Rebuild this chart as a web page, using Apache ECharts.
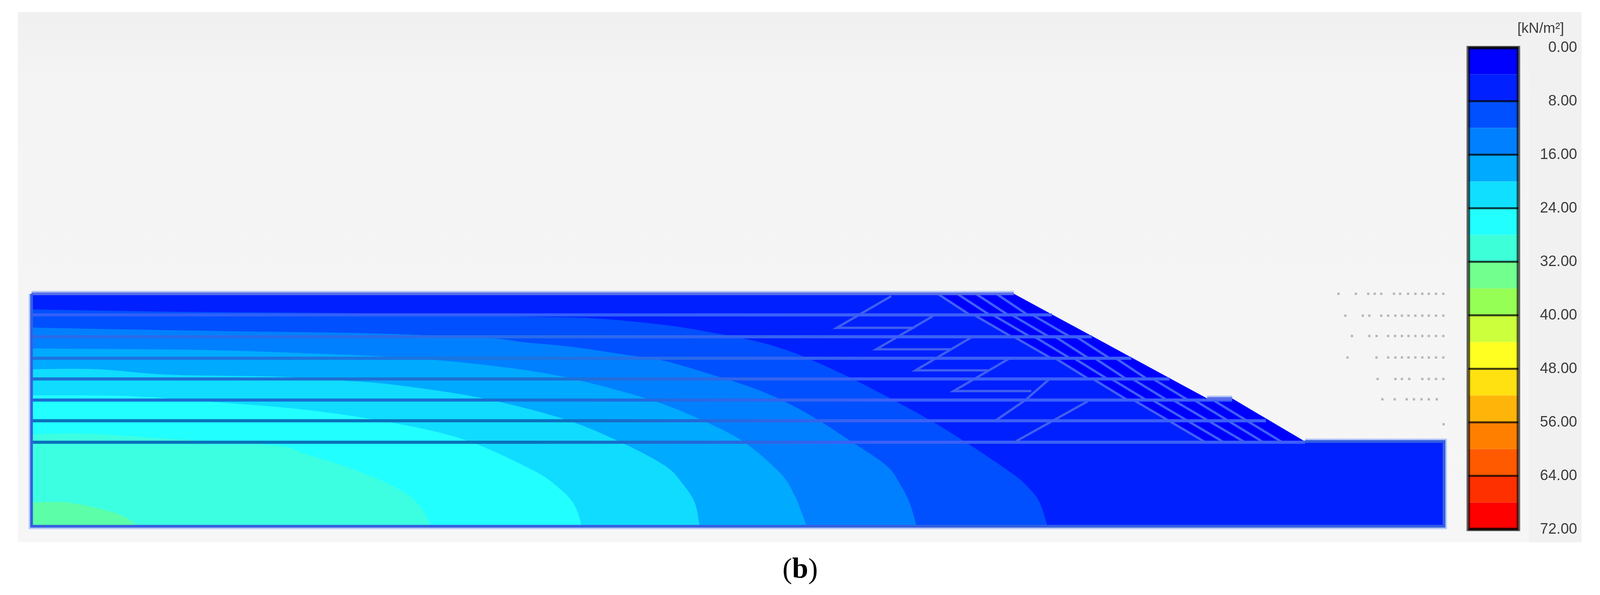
<!DOCTYPE html>
<html>
<head>
<meta charset="utf-8">
<title>Stress contours</title>
<style>
  html, body { margin: 0; padding: 0; background: #fff; overflow: hidden; }
  #main { width: 100vw; height: 100vh; }
</style>
<script src="https://cdn.jsdelivr.net/npm/echarts@6/dist/echarts.min.js"></script>
</head>
<body>
<div id="main"></div>
<script>
// colour scale
var scaleTicks = [0, 8, 16, 24, 32, 40, 48, 56, 64, 72];
var bandSizes = [4, 4, 4, 4, 4, 4, 4, 4, 4, 4, 4, 4, 4, 4, 4, 4, 4, 4];
var bandColors = ["#0000ff", "#0020ff", "#0050ff", "#0080ff", "#00aaff", "#10dfff", "#22ffff", "#3dffd8", "#72ff8e",
  "#96ff55", "#ccff3c", "#ffff22", "#ffe010", "#ffb40a", "#ff8000", "#ff5a00", "#ff3000", "#ff0000"];
var contourColors = ["#0050ff", "#0080ff", "#00aaff", "#10dcff", "#22ffff", "#3cffe2", "#5cffa8"];

// model outline and layers, in picture units
var outline = [[87, 752], [2795, 752], [3328, 1020], [3397, 1020], [3598, 1130], [3981, 1130], [3981, 1347], [87, 1347]];
var outlineEdges = [
  [[87, 752], [2795, 752]],
  [[3328, 1020], [3397, 1020]],
  [[3598, 1130], [3981, 1130], [3981, 1347], [87, 1347], [87, 752]]
];
var layerY = [752, 806, 862, 917, 970, 1025, 1132];
var layerEndX = [2900, 3010, 3119, 3224, 3397, 3490, 3598];
var layerLineY = [806, 862, 917, 970, 1024, 1077, 1132];
var layerLeftColor = ["#3060fa", "#2a6cea", "#1c74de", "#1c70d2", "#1670d4", "#0a72bc", "#0a72bc"];

// slope face inside each layer
var faceRuns = [
  [[2795, 752], [2902, 806]],
  [[2902, 806], [3014, 862]],
  [[3014, 862], [3123, 917]],
  [[3123, 917], [3228, 970]],
  [[3228, 970], [3328, 1020], [3397, 1020], [3406, 1025]],
  [[3406, 1025], [3598, 1132]]
];

// contour limits, from the left edge round to the base
var contour8 = [[87, 792], [495, 798], [980, 802], [1479, 811], [1642, 815], [1834, 832], [1961, 851], [2087, 874], [2170, 897], [2234, 920], [2342, 966], [2463, 1024], [2559, 1073], [2661, 1131], [2789, 1211], [2833, 1246], [2865, 1284], [2888, 1347]];
var contour12 = [[87, 838], [170, 840], [648, 848], [1012, 853], [1342, 865], [1444, 876], [1578, 888], [1731, 909], [1833, 924], [1980, 964], [2087, 997], [2170, 1031], [2259, 1077], [2345, 1129], [2444, 1192], [2483, 1242], [2508, 1288], [2527, 1347]];
var contour16 = [[87, 892], [406, 894], [616, 897], [865, 905], [1087, 914], [1317, 932], [1540, 962], [1782, 1020], [1929, 1073], [2050, 1131], [2151, 1211], [2189, 1265], [2208, 1307], [2224, 1347]];
var contour20 = [[87, 945], [266, 945], [463, 959], [763, 964], [942, 974], [1087, 985], [1323, 1018], [1546, 1070], [1700, 1127], [1833, 1192], [1885, 1242], [1916, 1288], [1929, 1347]];
var contour24 = [[87, 1012], [358, 1014], [617, 1031], [853, 1050], [1087, 1083], [1285, 1127], [1470, 1204], [1546, 1253], [1585, 1295], [1604, 1347]];
var contour28 = [[87, 1112], [234, 1110], [444, 1122], [757, 1140], [842, 1162], [982, 1204], [1087, 1246], [1151, 1288], [1189, 1347]];
var contour32 = [[87, 1286], [183, 1286], [278, 1303], [342, 1322], [380, 1347]];

// reinforcement strips per layer, x at layer top and layer bottom
var stripTop = [
  [2585, 2639, 2690, 2747],
  [2685, 2737, 2789, 2846],
  [2795, 2852, 2909, 2967],
  [2909, 2961, 3018, 3076],
  [3013, 3064, 3122, 3179],
  [3127, 3179, 3236, 3294, 3346]
];
var stripBottom = [
  [2674, 2728, 2779, 2833],
  [2789, 2840, 2892, 2950],
  [2898, 2950, 3001, 3059],
  [3001, 3053, 3105, 3162],
  [3110, 3162, 3219, 3277],
  [3323, 3374, 3432, 3483, 3535]
];

// grey zig-zag mesh lines
var meshLines = [
  [[2457, 758], [2307, 839], [2521, 839]],
  [[2572, 809], [2416, 894], [2620, 894]],
  [[2677, 864], [2524, 948], [2725, 948]],
  [[2782, 918], [2629, 1001], [2843, 1001]],
  [[2891, 972], [2827, 1024], [2747, 1075]],
  [[2999, 1027], [2802, 1129]]
];

// small points to the right of the slope
var dotRows = [
  [752, [3690, 3738, 3772, 3790, 3808, 3843, 3860, 3882, 3902, 3921, 3939, 3959, 3979]],
  [808, [3709, 3757, 3775, 3808, 3827, 3847, 3865, 3883, 3902, 3921, 3939, 3959, 3979]],
  [860, [3727, 3775, 3795, 3827, 3846, 3865, 3883, 3902, 3921, 3939, 3959, 3979]],
  [915, [3715, 3795, 3827, 3847, 3865, 3883, 3902, 3921, 3939, 3959, 3979]],
  [970, [3798, 3847, 3865, 3885, 3921, 3939, 3959, 3979]],
  [1022, [3811, 3845, 3878, 3898, 3919, 3939, 3961]],
  [1086, [3980]]
];

var chart = echarts.init(document.getElementById("main"), null, { renderer: "canvas" });
// the window can come up narrower than the picture, so widths follow it
var k = chart.getWidth() / 4411;

function polygonSeries(points, color) {
  return {
    type: "custom",
    xAxisIndex: 0,
    yAxisIndex: 0,
    silent: true,
    clip: false,
    data: [points[0]],
    renderItem: function (params, api) {
      return {
        type: "polygon",
        shape: { points: points.map(function (p) { return api.coord(p); }) },
        style: { fill: color }
      };
    }
  };
}

// contour region: smooth curve through the read points, closed at the bottom left corner
function contourSeries(curve, color) {
  return {
    type: "custom",
    xAxisIndex: 0,
    yAxisIndex: 0,
    silent: true,
    clip: false,
    data: [curve[0]],
    renderItem: function (params, api) {
      var p = curve.map(function (q) { return api.coord(q); });
      var d = "M" + p[0][0] + " " + p[0][1];
      for (var i = 0; i < p.length - 1; i++) {
        var a = p[Math.max(i - 1, 0)], b = p[i], c = p[i + 1], e = p[Math.min(i + 2, p.length - 1)];
        d += "C" + (b[0] + (c[0] - a[0]) / 6) + " " + (b[1] + (c[1] - a[1]) / 6) + " " +
          (c[0] - (e[0] - b[0]) / 6) + " " + (c[1] - (e[1] - b[1]) / 6) + " " + c[0] + " " + c[1];
      }
      var corner = api.coord([87, 1347]);
      d += "L" + corner[0] + " " + corner[1] + "Z";
      return { type: "path", shape: { pathData: d }, style: { fill: color } };
    }
  };
}

function lineSeries(points, color, width) {
  return {
    type: "line",
    xAxisIndex: 0,
    yAxisIndex: 0,
    silent: true,
    clip: false,
    symbol: "none",
    data: points,
    lineStyle: { color: color, width: width, join: "miter", cap: "butt" }
  };
}

var series = [];

// halo, then model fill, then contours back to front
outlineEdges.forEach(function (edge) {
  series.push(lineSeries(edge, "#b8c9f7", 15));
});
series.push(polygonSeries(outline, "#0020ff"));
[contour8, contour12, contour16, contour20, contour24, contour28, contour32].forEach(function (c, i) {
  series.push(contourSeries(c, contourColors[i]));
});

// dark zone under the slope
stripTop.forEach(function (top, i) {
  var pts = [[top[0], layerY[i]]].concat(faceRuns[i], [[stripBottom[i][0], layerY[i + 1]]]);
  series.push(polygonSeries(pts, "#0000ff"));
});

// strips
stripTop.forEach(function (top, i) {
  top.forEach(function (x, j) {
    series.push(lineSeries([[x, layerY[i]], [stripBottom[i][j], layerY[i + 1]]], "#3f62f5", 6));
  });
});

meshLines.forEach(function (m) {
  series.push(lineSeries(m, "#3f5ff0", 6));
});

layerLineY.forEach(function (y, i) {
  series.push(lineSeries([[87, y], [layerEndX[i], y]], {
    type: "linear", x: 87 * k, y: 0, x2: 2400 * k, y2: 0, global: true,
    colorStops: [{ offset: 0, color: layerLeftColor[i] }, { offset: 0.6, color: layerLeftColor[i] }, { offset: 1, color: "#3c60f8" }]
  }, 8));
});

outlineEdges.forEach(function (edge, i) {
  series.push(lineSeries(edge, i === 2 ? "#3460e0" : "#5a70e8", 7));
});

dotRows.forEach(function (row) {
  series.push({
    type: "scatter",
    xAxisIndex: 0,
    yAxisIndex: 0,
    silent: true,
    clip: false,
    symbol: "rect",
    symbolSize: 6,
    itemStyle: { color: "#a8a8b4" },
    data: row[1].map(function (x) { return [x, row[0]]; })
  });
});

// colour bar
bandSizes.forEach(function (v, i) {
  series.push({
    type: "bar",
    xAxisIndex: 1,
    yAxisIndex: 1,
    stack: "scale",
    barWidth: "100%",
    silent: true,
    itemStyle: { color: bandColors[i] },
    data: [v]
  });
});

series.push({
  type: "custom",
  xAxisIndex: 1,
  yAxisIndex: 1,
  silent: true,
  clip: false,
  data: scaleTicks.map(function (t) { return [0, t]; }),
  renderItem: function (params, api) {
    var box = params.coordSys;
    var y = api.coord([0, api.value(1)])[1];
    var children = [{
      type: "line",
      shape: { x1: box.x, y1: y, x2: box.x + box.width, y2: y },
      style: { stroke: "rgba(0,0,0,0.75)", lineWidth: 5 }
    }];
    if (params.dataIndex === 0) {
      children.push({
        type: "rect",
        shape: { x: box.x, y: box.y, width: box.width, height: box.height },
        style: { fill: "none", stroke: "rgba(0,0,0,0.62)", lineWidth: 9 }
      });
    }
    return { type: "group", children: children };
  }
});

// later series on top
series.forEach(function (s, i) {
  s.z = 2 + i;
});

var option = {
  backgroundColor: "#ffffff",
  animation: false,
  grid: [
    { left: 87 * k, top: 752, width: 3894 * k, height: 595 },
    { left: 4048 * k, top: 122, width: 138 * k, height: 1233 }
  ],
  xAxis: [
    { type: "value", gridIndex: 0, min: 87, max: 3981, show: false },
    { type: "category", gridIndex: 1, data: ["scale"], show: false }
  ],
  yAxis: [
    { type: "value", gridIndex: 0, min: 752, max: 1347, inverse: true, show: false },
    {
      type: "value",
      gridIndex: 1,
      min: 0,
      max: 72,
      interval: 8,
      inverse: true,
      position: "right",
      axisLine: { show: false },
      axisTick: { show: false },
      splitLine: { show: false },
      axisLabel: {
        align: "right",
        margin: 162 * k,
        color: "#3c3c3c",
        fontFamily: "Liberation Sans",
        fontSize: 41 * k,
        formatter: function (v) { return v.toFixed(2); }
      }
    }
  ],
  graphic: [
    {
      type: "rect",
      z: -10,
      shape: { x: 49 * k, y: 31, width: 4311 * k, height: 1357 },
      style: {
        fill: {
          type: "linear", x: 0, y: 0, x2: 0, y2: 1,
          colorStops: [{ offset: 0, color: "#f0f0f0" }, { offset: 0.15, color: "#f4f4f4" }, { offset: 1, color: "#f6f6f6" }]
        }
      }
    },
    { type: "rect", z: -9, shape: { x: 4215 * k, y: 31, width: 145 * k, height: 1357 }, style: { fill: "#f1f1f1" } },
    {
      type: "text",
      z: 10,
      style: {
        x: 4312 * k, y: 74, text: "[kN/m²]", align: "right", verticalAlign: "middle",
        fill: "#3c3c3c", fontFamily: "Liberation Sans", fontSize: 40 * k
      }
    },
    {
      type: "text",
      z: 10,
      style: {
        x: 2206 * k, y: 1460, text: "{p|(}{b|b}{p|)}", align: "center", verticalAlign: "middle",
        rich: {
          p: { fontFamily: "Liberation Serif", fontSize: 80 * k, fill: "#000000" },
          b: { fontFamily: "Liberation Serif", fontSize: 80 * k, fontWeight: "bold", fill: "#000000" }
        }
      }
    }
  ],
  series: series
};

chart.setOption(option);
</script>
</body>
</html>
